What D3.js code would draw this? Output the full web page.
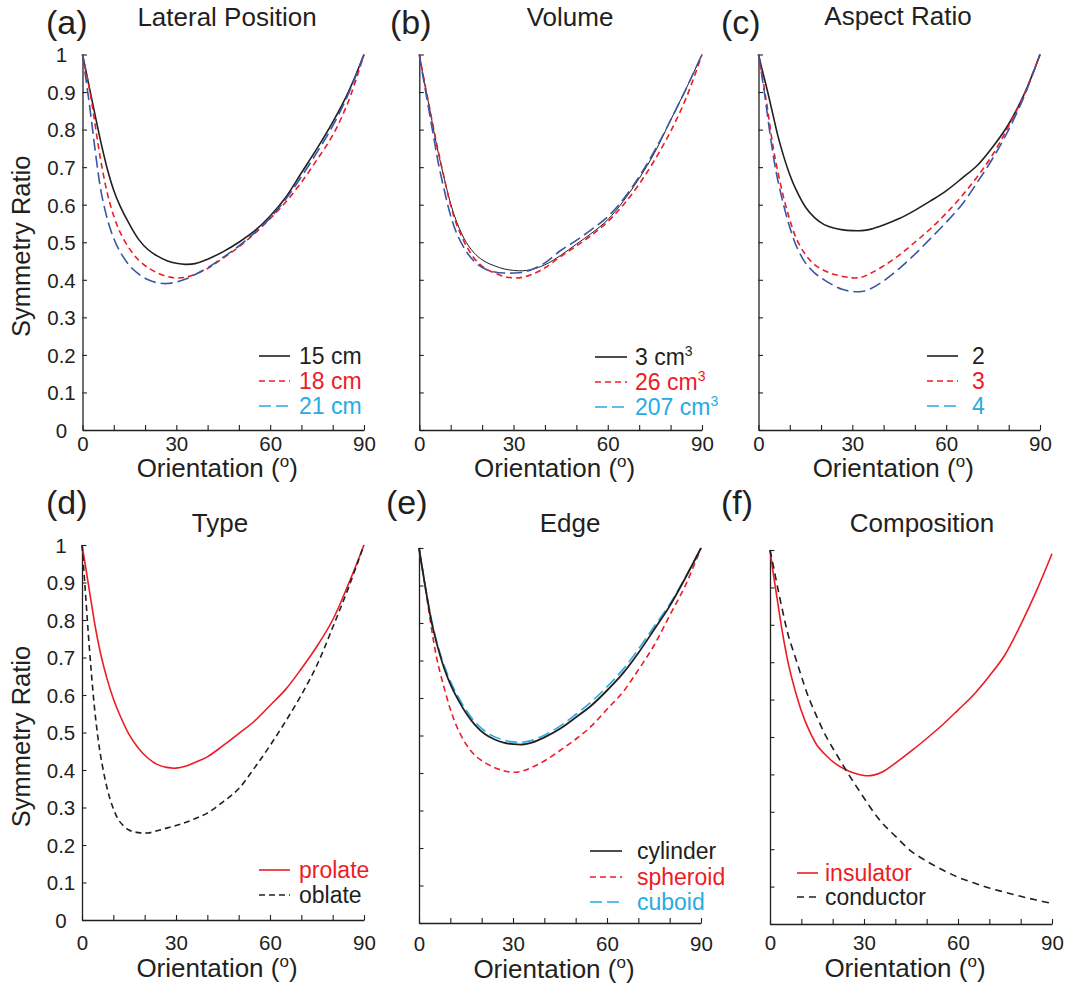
<!DOCTYPE html>
<html>
<head>
<meta charset="utf-8">
<script src="https://cdn.jsdelivr.net/npm/d3@7/dist/d3.min.js"></script>
<style>
  html, body { margin: 0; padding: 0; background: #fff; }
  svg { display: block; font-family: "Liberation Sans", Arial, sans-serif; }
</style>
</head>
<body>
<svg id="chart" width="1067" height="987"></svg>
<script>
// ---------------- DATA ----------------
const angles = [0,1,2,3,4,5,6,8,10,12,15,18,21,24,27,30,33,36,40,45,50,55,60,65,70,75,80,85,90];

// (a) Lateral Position
const lateral15cm = [1,0.96,0.92,0.88,0.84,0.80,0.762,0.693,0.638,0.597,0.548,0.507,0.48,0.463,0.451,0.444,0.441,0.443,0.455,0.475,0.50,0.53,0.57,0.62,0.685,0.75,0.82,0.90,1.0];
const lateral18cm = [1,0.96,0.918,0.87,0.815,0.76,0.71,0.628,0.57,0.527,0.483,0.452,0.432,0.418,0.409,0.405,0.407,0.415,0.43,0.458,0.488,0.523,0.563,0.607,0.66,0.72,0.785,0.875,1.0];
const lateral21cm = [1,0.94,0.88,0.815,0.748,0.685,0.632,0.56,0.51,0.475,0.438,0.415,0.40,0.392,0.39,0.394,0.402,0.414,0.432,0.46,0.49,0.525,0.565,0.615,0.675,0.74,0.81,0.895,1.0];

// (b) Volume
const volume3 = [1,0.955,0.91,0.868,0.824,0.78,0.74,0.668,0.602,0.552,0.499,0.467,0.448,0.437,0.429,0.425,0.424,0.428,0.44,0.465,0.495,0.525,0.56,0.61,0.67,0.74,0.825,0.91,1.0];
const volume26 = [1,0.955,0.912,0.87,0.827,0.785,0.744,0.668,0.598,0.545,0.49,0.452,0.43,0.418,0.409,0.405,0.407,0.415,0.432,0.462,0.49,0.52,0.555,0.60,0.655,0.72,0.795,0.885,1.0];
const volume207 = [1,0.95,0.902,0.855,0.807,0.76,0.713,0.637,0.57,0.522,0.475,0.445,0.429,0.421,0.418,0.418,0.42,0.428,0.445,0.478,0.505,0.535,0.568,0.615,0.675,0.745,0.825,0.91,1.0];

// (c) Aspect Ratio
const aspect2 = [1,0.965,0.932,0.898,0.862,0.826,0.79,0.73,0.68,0.64,0.594,0.565,0.547,0.538,0.533,0.531,0.531,0.535,0.546,0.563,0.585,0.61,0.637,0.67,0.705,0.755,0.815,0.895,1.0];
const aspect3 = [1,0.952,0.902,0.848,0.79,0.738,0.695,0.62,0.56,0.512,0.467,0.44,0.425,0.415,0.409,0.405,0.407,0.418,0.437,0.466,0.50,0.536,0.577,0.623,0.675,0.735,0.81,0.895,1.0];
const aspect4 = [1,0.948,0.892,0.83,0.77,0.717,0.672,0.60,0.54,0.492,0.445,0.418,0.40,0.385,0.374,0.369,0.369,0.377,0.397,0.43,0.468,0.51,0.553,0.60,0.66,0.725,0.80,0.89,1.0];

// (d) Type
const typeProlate = [1,0.95,0.897,0.845,0.793,0.748,0.708,0.643,0.59,0.548,0.495,0.458,0.432,0.415,0.407,0.405,0.41,0.42,0.435,0.465,0.497,0.53,0.572,0.615,0.67,0.73,0.80,0.895,1.0];
const typeOblate = [1,0.885,0.765,0.658,0.565,0.492,0.435,0.352,0.297,0.263,0.24,0.233,0.232,0.238,0.245,0.252,0.26,0.27,0.285,0.315,0.35,0.405,0.465,0.53,0.60,0.68,0.78,0.885,1.0];

// (e) Edge
const edgeCylinder = [1,0.948,0.897,0.848,0.803,0.767,0.735,0.68,0.637,0.603,0.56,0.527,0.504,0.49,0.481,0.477,0.476,0.481,0.495,0.518,0.548,0.58,0.62,0.665,0.72,0.782,0.845,0.92,1.0];
const edgeSpheroid = [1,0.948,0.895,0.84,0.785,0.735,0.693,0.628,0.57,0.525,0.477,0.446,0.428,0.415,0.406,0.402,0.405,0.415,0.432,0.46,0.49,0.525,0.57,0.615,0.675,0.74,0.82,0.90,1.0];
const edgeCuboid = [1,0.948,0.899,0.851,0.808,0.772,0.74,0.687,0.645,0.611,0.568,0.535,0.512,0.497,0.488,0.483,0.482,0.487,0.501,0.525,0.556,0.59,0.63,0.675,0.73,0.79,0.85,0.922,1.0];

// (f) Composition
const compInsulator = [1,0.94,0.885,0.83,0.778,0.732,0.69,0.625,0.57,0.527,0.478,0.45,0.428,0.413,0.403,0.397,0.398,0.407,0.43,0.462,0.496,0.532,0.572,0.613,0.663,0.72,0.80,0.89,0.99];
const compConductor = [1,0.96,0.918,0.877,0.838,0.80,0.767,0.715,0.663,0.613,0.553,0.50,0.457,0.415,0.375,0.337,0.30,0.268,0.235,0.195,0.168,0.145,0.125,0.11,0.096,0.085,0.074,0.064,0.055];

const xTicks = [0,10,20,30,40,50,60,70,80,90];
const xTickLabels = ["0","","","30","","","60","","","90"];
const yTicks = [0,0.1,0.2,0.3,0.4,0.5,0.6,0.7,0.8,0.9,1];
const yTickLabels = ["0","0.1","0.2","0.3","0.4","0.5","0.6","0.7","0.8","0.9","1"];

const panelLetters = ["(a)","(b)","(c)","(d)","(e)","(f)"];
const panelTitles = ["Lateral Position","Volume","Aspect Ratio","Type","Edge","Composition"];

// ---------------- STYLES / LAYOUT ----------------
const INK = "#231f20", RED = "#ed1c24", NAVY = "#3a56a6", CYAN = "#29abe2";
const SOLID = null, SHORT = "6,4", LONG = "12,5";

const panels = [
  { x0: 82.5, x1: 364, yTop: 54.5, yBot: 430, yLabels: true, titleX: 227, titleY: 26, letterX: 46, letterY: 34, tickLabY: 20, axLabY: 47,
    series: [
      { v: lateral15cm, c: INK, d: SOLID, w: 1.6, label: "15 cm", lc: INK },
      { v: lateral18cm, c: RED, d: SHORT, w: 1.6, label: "18 cm", lc: RED },
      { v: lateral21cm, c: NAVY, d: LONG, w: 1.6, label: "21 cm", lc: CYAN }],
    legend: { lx0: 259, lx1: 290, tx: 299, rows: [356, 381, 406] } },
  { x0: 419.3, x1: 702, yTop: 54.5, yBot: 430, yLabels: false, titleX: 570, titleY: 26, letterX: 390, letterY: 34, tickLabY: 20, axLabY: 47,
    series: [
      { v: volume3, c: INK, d: SOLID, w: 1.0, label: "3 cm", sup: "3", lc: INK },
      { v: volume26, c: RED, d: SHORT, w: 1.6, label: "26 cm", sup: "3", lc: RED },
      { v: volume207, c: NAVY, d: LONG, w: 1.6, label: "207 cm", sup: "3", lc: CYAN }],
    legend: { lx0: 595, lx1: 627, tx: 635, rows: [357, 382, 407] } },
  { x0: 758.5, x1: 1040, yTop: 54.5, yBot: 430, yLabels: false, titleX: 898, titleY: 25, letterX: 721, letterY: 34, tickLabY: 20, axLabY: 47,
    series: [
      { v: aspect2, c: INK, d: SOLID, w: 1.6, label: "2", lc: INK },
      { v: aspect3, c: RED, d: SHORT, w: 1.6, label: "3", lc: RED },
      { v: aspect4, c: NAVY, d: LONG, w: 1.6, label: "4", lc: CYAN }],
    legend: { lx0: 927, lx1: 958, tx: 972, rows: [356, 381, 406] } },
  { x0: 82, x1: 364, yTop: 545, yBot: 920, yLabels: true, titleX: 220, titleY: 532, letterX: 46, letterY: 514, tickLabY: 29, axLabY: 57,
    series: [
      { v: typeProlate, c: RED, d: SOLID, w: 1.6, label: "prolate", lc: RED },
      { v: typeOblate, c: INK, d: SHORT, w: 1.6, label: "oblate", lc: INK }],
    legend: { lx0: 259, lx1: 290, tx: 299, rows: [870, 895] } },
  { x0: 419, x1: 701, yTop: 548, yBot: 923, yLabels: false, titleX: 570, titleY: 532, letterX: 386, letterY: 514, tickLabY: 27, axLabY: 55,
    series: [
      { v: edgeSpheroid, c: RED, d: SHORT, w: 1.6, label: "spheroid", lc: RED, order: 1 },
      { v: edgeCuboid, c: CYAN, d: LONG, w: 1.6, label: "cuboid", lc: CYAN, order: 2 },
      { v: edgeCylinder, c: INK, d: SOLID, w: 1.8, label: "cylinder", lc: INK, order: 0 }],
    legend: { lx0: 590, lx1: 622, tx: 637, rows: [851, 877, 902] } },
  { x0: 770, x1: 1052, yTop: 550, yBot: 924, yLabels: false, titleX: 922, titleY: 532, letterX: 721, letterY: 514, tickLabY: 25, axLabY: 53,
    series: [
      { v: compInsulator, c: RED, d: SOLID, w: 1.6, label: "insulator", lc: RED },
      { v: compConductor, c: INK, d: "7,5", w: 1.6, label: "conductor", lc: INK }],
    legend: { lx0: 797, lx1: 818, tx: 825, rows: [873, 897] } }
];

// ---------------- DRAW ----------------
const svg = d3.select("#chart");
svg.append("rect").attr("width", 1067).attr("height", 987).attr("fill", "#fff");

panels.forEach((p, i) => {
  const x = d3.scaleLinear().domain([0, 90]).range([p.x0, p.x1]);
  const y = d3.scaleLinear().domain([0, 1]).range([p.yBot, p.yTop]);
  const g = svg.append("g");

  // x axis
  const xa = g.append("g").attr("transform", `translate(0,${p.yBot})`)
    .call(d3.axisBottom(x).tickValues(xTicks).tickSize(-5).tickSizeOuter(0)
      .tickPadding(p.tickLabY - 14)
      .tickFormat((d, k) => xTickLabels[k]));
  // y axis
  const ya = g.append("g").attr("transform", `translate(${p.x0},0)`)
    .call(d3.axisLeft(y).tickValues(yTicks).tickSize(-4.5).tickSizeOuter(0)
      .tickFormat((d, k) => p.yLabels ? yTickLabels[k] : ""));
  [xa, ya].forEach(a => {
    a.select(".domain").attr("stroke", INK).attr("stroke-width", 1.3);
    a.selectAll(".tick line").attr("stroke", INK).attr("stroke-width", 1.1);
    a.selectAll(".tick text").attr("fill", INK).attr("font-size", 20.5)
      .attr("font-family", "Liberation Sans, Arial, sans-serif");
  });
  ya.selectAll(".tick text").attr("text-anchor", "middle").attr("x", -21).attr("dy", "0.36em");

  // curves
  const line = d3.line().x((d, k) => x(angles[k])).y(d => y(d)).curve(d3.curveCatmullRom.alpha(0.5));
  p.series.forEach(s => {
    g.append("path").datum(s.v)
      .attr("d", line)
      .attr("fill", "none")
      .attr("stroke", s.c)
      .attr("stroke-width", s.w)
      .attr("stroke-dasharray", s.d);
  });

  // legend
  const hasOrder = p.series.some(s => s.order !== undefined);
  const legendOrder = hasOrder ? p.series.slice().sort((a, b) => a.order - b.order) : p.series;
  legendOrder.forEach((s, k) => {
    const ry = p.legend.rows[k];
    g.append("line").attr("x1", p.legend.lx0).attr("x2", p.legend.lx1)
      .attr("y1", ry).attr("y2", ry)
      .attr("stroke", s.lc).attr("stroke-width", 1.6)
      .attr("stroke-dasharray", s.d);
    const t = g.append("text").attr("x", p.legend.tx).attr("y", ry + 8)
      .attr("fill", s.lc).attr("font-size", 23).text(s.label);
    if (s.sup) {
      t.append("tspan").attr("font-size", 14).attr("dy", -9).text(s.sup);
    }
  });

  // titles
  svg.append("text").attr("x", p.letterX).attr("y", p.letterY)
    .attr("font-size", 34).attr("fill", INK).text(panelLetters[i]);
  svg.append("text").attr("x", p.titleX).attr("y", p.titleY)
    .attr("text-anchor", "middle").attr("font-size", 26).attr("fill", INK).text(panelTitles[i]);

  // x axis label
  const xl = svg.append("text").attr("x", (p.x0 + p.x1) / 2 - 6).attr("y", p.yBot + p.axLabY)
    .attr("text-anchor", "middle").attr("font-size", 26).attr("fill", INK);
  xl.append("tspan").text("Orientation (");
  xl.append("tspan").attr("font-size", 17).attr("dy", -10).text("o");
  xl.append("tspan").attr("dy", 10).text(")");

  // y axis label
  if (p.yLabels) {
    svg.append("text")
      .attr("transform", `translate(30,${(p.yTop + p.yBot) / 2 + 4}) rotate(-90)`)
      .attr("text-anchor", "middle").attr("font-size", 25.5).attr("fill", INK)
      .text("Symmetry Ratio");
  }
});
</script>
</body>
</html>
